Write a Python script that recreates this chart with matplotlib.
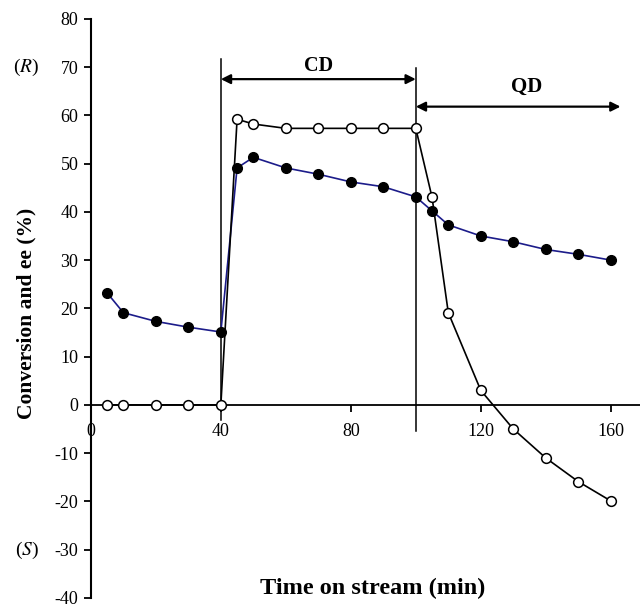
import matplotlib.pyplot as plt

plt.rcParams['font.family'] = ['Liberation Serif', 'DejaVu Serif']
plt.rcParams['mathtext.fontset'] = 'stix'
plt.rcParams['axes.unicode_minus'] = False

# time on stream (min)
time = [5, 10, 20, 30, 40, 45, 50, 60, 70, 80, 90, 100, 105, 110, 120, 130, 140, 150, 160]
# conversion (%) - filled circles
conversion = [23.2, 19.1, 17.3, 16.1, 15.1, 49.1, 51.3, 49.1, 47.8, 46.2, 45.2, 43.1,
              40.2, 37.3, 35.0, 33.8, 32.2, 31.2, 30.0]
# ee (%) - open circles
ee = [0, 0, 0, 0, 0, 59.2, 58.2, 57.3, 57.3, 57.3, 57.3, 57.3,
      43.0, 19.1, 3.0, -5.0, -11.0, -15.9, -19.9]

xticks = [0, 40, 80, 120, 160]
yticks = list(range(-40, 81, 10))

fig = plt.figure(figsize=(6.4, 6.07), dpi=100)
ax = fig.add_axes([0.142, 0.015, 0.858, 0.954])

ax.plot(time, conversion, '-', color='#1c1c8a', lw=1.2, zorder=3)
ax.plot(time, conversion, 'o', color='black', ms=7, zorder=4)
ax.plot(time, ee, '-', color='black', lw=1.2, zorder=3,
        marker='o', mfc='white', mec='black', ms=7, mew=1.1)

# region boundaries
ax.plot([40, 40], [71.6, -3.1], color='black', lw=1.1)
ax.plot([100, 100], [69.8, -5.4], color='black', lw=1.1)

arrow = dict(arrowstyle='<|-|>', color='black', lw=1.6, mutation_scale=14,
             shrinkA=0, shrinkB=0)
ax.annotate('', xy=(40, 67.5), xytext=(100, 67.5), arrowprops=arrow)
ax.annotate('', xy=(100, 61.8), xytext=(163, 61.8), arrowprops=arrow)
ax.text(70, 70.3, 'CD', ha='center', va='center', fontsize=14.5, fontweight='bold')
ax.text(134, 65.8, 'QD', ha='center', va='center', fontsize=15, fontweight='bold')

ax.set_xlim(0, 169)
ax.set_ylim(-40, 80)
ax.set_xticks(xticks)
ax.set_yticks(yticks)
ax.spines['bottom'].set_position(('data', 0))
ax.spines['top'].set_visible(False)
ax.spines['right'].set_visible(False)
ax.spines['left'].set_linewidth(1.5)
ax.spines['bottom'].set_linewidth(1.3)
ax.tick_params(direction='out', length=5, width=1.3, labelsize=13, pad=4)
ax.tick_params(axis='x', pad=8)
ax.set_facecolor('none')

fig.text(0.042, 0.483, 'Conversion and ee (%)', rotation=90, ha='center', va='center',
         fontsize=15.5, fontweight='bold')
fig.text(0.583, 0.03, 'Time on stream (min)', ha='center', va='center',
         fontsize=17.5, fontweight='bold')
fig.text(0.04, 0.889, '($\\mathit{R}$)', ha='center', va='center', fontsize=14)
fig.text(0.042, 0.094, '($\\mathit{S}$)', ha='center', va='center', fontsize=14)

fig.savefig('out.png', dpi=100)
